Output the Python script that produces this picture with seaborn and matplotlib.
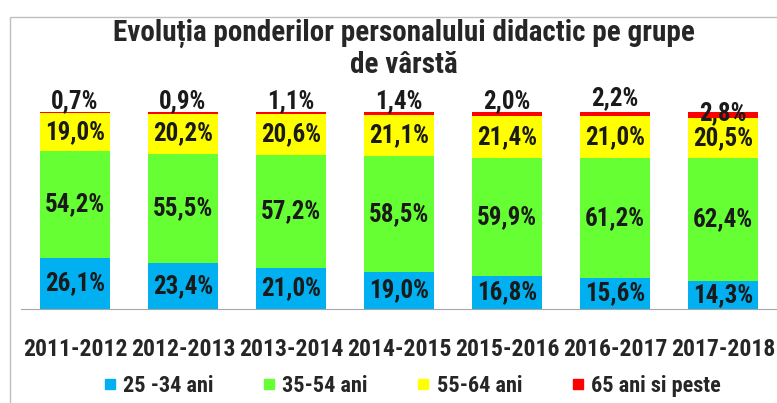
import matplotlib
matplotlib.use('Agg')
import matplotlib.pyplot as plt
from matplotlib.lines import Line2D
from matplotlib.patches import Rectangle
import seaborn as sns
import numpy as np

# date
ani_scolari = ['2011-2012', '2012-2013', '2013-2014', '2014-2015',
               '2015-2016', '2016-2017', '2017-2018']
grupa_25_34 = [26.1, 23.4, 21.0, 19.0, 16.8, 15.6, 14.3]
grupa_35_54 = [54.2, 55.5, 57.2, 58.5, 59.9, 61.2, 62.4]
grupa_55_64 = [19.0, 20.2, 20.6, 21.1, 21.4, 21.0, 20.5]
grupa_65_plus = [0.7, 0.9, 1.1, 1.4, 2.0, 2.2, 2.8]
nume_grupe = ['25 -34 ani', '35-54 ani', '55-64 ani', '65 ani si peste']
culori = ['#00B0F0', '#66FF33', '#FFFF00', '#FF0000']

sns.set_style('white')
plt.rcParams['font.family'] = ['Roboto Condensed', 'DejaVu Sans']
plt.rcParams['font.weight'] = 'bold'

fig = plt.figure(figsize=(7.77, 4.03), dpi=100)
ax = fig.add_axes([21 / 777, 94 / 403, 756 / 777, 197 / 403])

serii = [grupa_25_34, grupa_35_54, grupa_55_64, grupa_65_plus]
baza = np.zeros(len(ani_scolari))
for valori, culoare in zip(serii, culori):
    sns.barplot(x=ani_scolari, y=valori, bottom=baza, color=culoare,
                width=0.65, ax=ax, linewidth=0, saturation=1)
    baza = baza + np.array(valori)

fmt = lambda v: f'{v:.1f}%'.replace('.', ',')
# etichete in interiorul barelor (primele 3 serii)
for cont, valori in zip(ax.containers[:3], serii[:3]):
    ax.bar_label(cont, labels=[fmt(v) for v in valori], label_type='center',
                 fontsize=18, fontweight='bold', color='#1a1a1a')

# etichete pentru 65+ deasupra barelor
deplasare = [8, 8, 8, 8, 8, 10, -1]
for i, (v, dy) in enumerate(zip(grupa_65_plus, deplasare)):
    ax.annotate(fmt(v), (i, 100), xytext=(0, dy), textcoords='offset points',
                ha='center', va='center', fontsize=18, fontweight='bold',
                color='#1a1a1a', annotation_clip=False)

ax.set_ylim(0, 100)
ax.set_xlim(-0.5, 6.5)
ax.set_yticks([])
ax.set_xlabel('')
for s in ['top', 'right', 'left']:
    ax.spines[s].set_visible(False)
ax.spines['bottom'].set_color('#A6A6A6')
ax.tick_params(axis='x', length=0, pad=21, labelsize=17)
for t in ax.get_xticklabels():
    t.set_fontweight('bold')

# titlu
fig.text(0.52, 1 - 33 / 403, 'Evoluția ponderilor personalului didactic pe grupe',
         ha='center', va='center', fontsize=21, fontweight='bold')
fig.text(0.52, 1 - 65 / 403, 'de vârstă', ha='center', va='center',
         fontsize=21, fontweight='bold')

# legenda
manere = [Line2D([], [], marker='s', linestyle='none', markersize=7,
                 markerfacecolor=c, markeredgecolor=c) for c in culori]
fig.legend(manere, nume_grupe, loc='center', bbox_to_anchor=(0.53, 17 / 403),
           ncol=4, frameon=False, handlelength=0.6, handletextpad=0.3,
           columnspacing=2.2, prop={'weight': 'bold', 'size': 16})

# chenar
fig.patches.append(Rectangle((10 / 777, -0.05), 1.0, 1 - 17 / 403 + 0.05,
                             transform=fig.transFigure, fill=False,
                             edgecolor='#BFBFBF', linewidth=1))

plt.savefig('out.png', dpi=100)
